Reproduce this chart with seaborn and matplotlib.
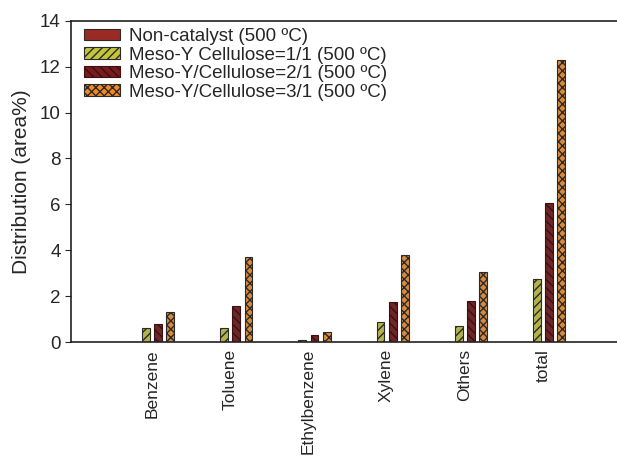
import numpy as np
import pandas as pd
import matplotlib
matplotlib.use("Agg")
import matplotlib.pyplot as plt
import matplotlib.patches as mpatches
import seaborn as sns

# data
categories = ["Benzene", "Toluene", "Ethylbenzene", "Xylene", "Others", "total"]
series = [
    "Non-catalyst (500 ºC)",
    "Meso-Y Cellulose=1/1 (500 ºC)",
    "Meso-Y/Cellulose=2/1 (500 ºC)",
    "Meso-Y/Cellulose=3/1 (500 ºC)",
]
non_catalyst = [0, 0, 0, 0, 0, 0]
ratio_1_1 = [0.6, 0.6, 0.1, 0.87, 0.68, 2.75]
ratio_2_1 = [0.8, 1.55, 0.3, 1.75, 1.8, 6.05]
ratio_3_1 = [1.3, 3.7, 0.43, 3.8, 3.05, 12.27]

colors = ["#9a2a24", "#c3c43a", "#7a1a1c", "#f4891f"]
hatches = [None, "////", "\\\\\\\\", "xxxx"]
hatch_colors = ["#2a2a2a", "#2a2a2a", "#3a1010", "#2a2a2a"]

rows = []
for s, vals in zip(series, [non_catalyst, ratio_1_1, ratio_2_1, ratio_3_1]):
    for c, v in zip(categories, vals):
        rows.append({"category": c, "series": s, "value": v})
df = pd.DataFrame(rows)

sns.set_style("ticks")
plt.rcParams["font.family"] = ["Liberation Sans", "DejaVu Sans"]
plt.rcParams["hatch.linewidth"] = 1.0

fig = plt.figure(figsize=(6.17, 4.61), dpi=100)
ax = fig.add_axes([0.115, 0.258, 0.885, 0.697])

sns.barplot(data=df, x="category", y="value", hue="series", order=categories,
            hue_order=series, palette=colors, width=0.62, dodge=True,
            errorbar=None, legend=False, ax=ax)

# narrow the bars and add hatch fills
bar_w = 0.1
for i, cont in enumerate(ax.containers):
    for p in cont:
        cx = p.get_x() + p.get_width() / 2
        p.set_width(bar_w)
        p.set_x(cx - bar_w / 2)
        p.set_edgecolor(hatch_colors[i])
        p.set_linewidth(0.8)
        if hatches[i]:
            p.set_hatch(hatches[i])

ax.set_xlim(-1.04, 5.95)
ax.set_ylim(0, 14)
ax.set_yticks(np.arange(0, 15, 2))
ax.set_ylabel("Distribution (area%)", fontsize=15, labelpad=6)
ax.set_xlabel("")
ax.tick_params(axis="y", labelsize=13.5, direction="out", length=4)
ax.tick_params(axis="x", labelsize=12.5, length=0, pad=5)
plt.setp(ax.get_xticklabels(), rotation=90)
for side in ["left", "top", "bottom"]:
    ax.spines[side].set_color("#222222")
    ax.spines[side].set_linewidth(1.2)
ax.spines["right"].set_visible(False)

handles = []
for i, s in enumerate(series):
    handles.append(mpatches.Patch(facecolor=colors[i], edgecolor=hatch_colors[i],
                                  hatch=hatches[i], linewidth=0.8, label=s))
ax.legend(handles=handles, loc="upper left", bbox_to_anchor=(0.01, 1.0),
          frameon=False, fontsize=13.5, handlelength=1.9, handleheight=0.55,
          labelspacing=0.08, borderaxespad=0.1, borderpad=0.3,
          handletextpad=0.5)

fig.savefig("out.png", dpi=100)
